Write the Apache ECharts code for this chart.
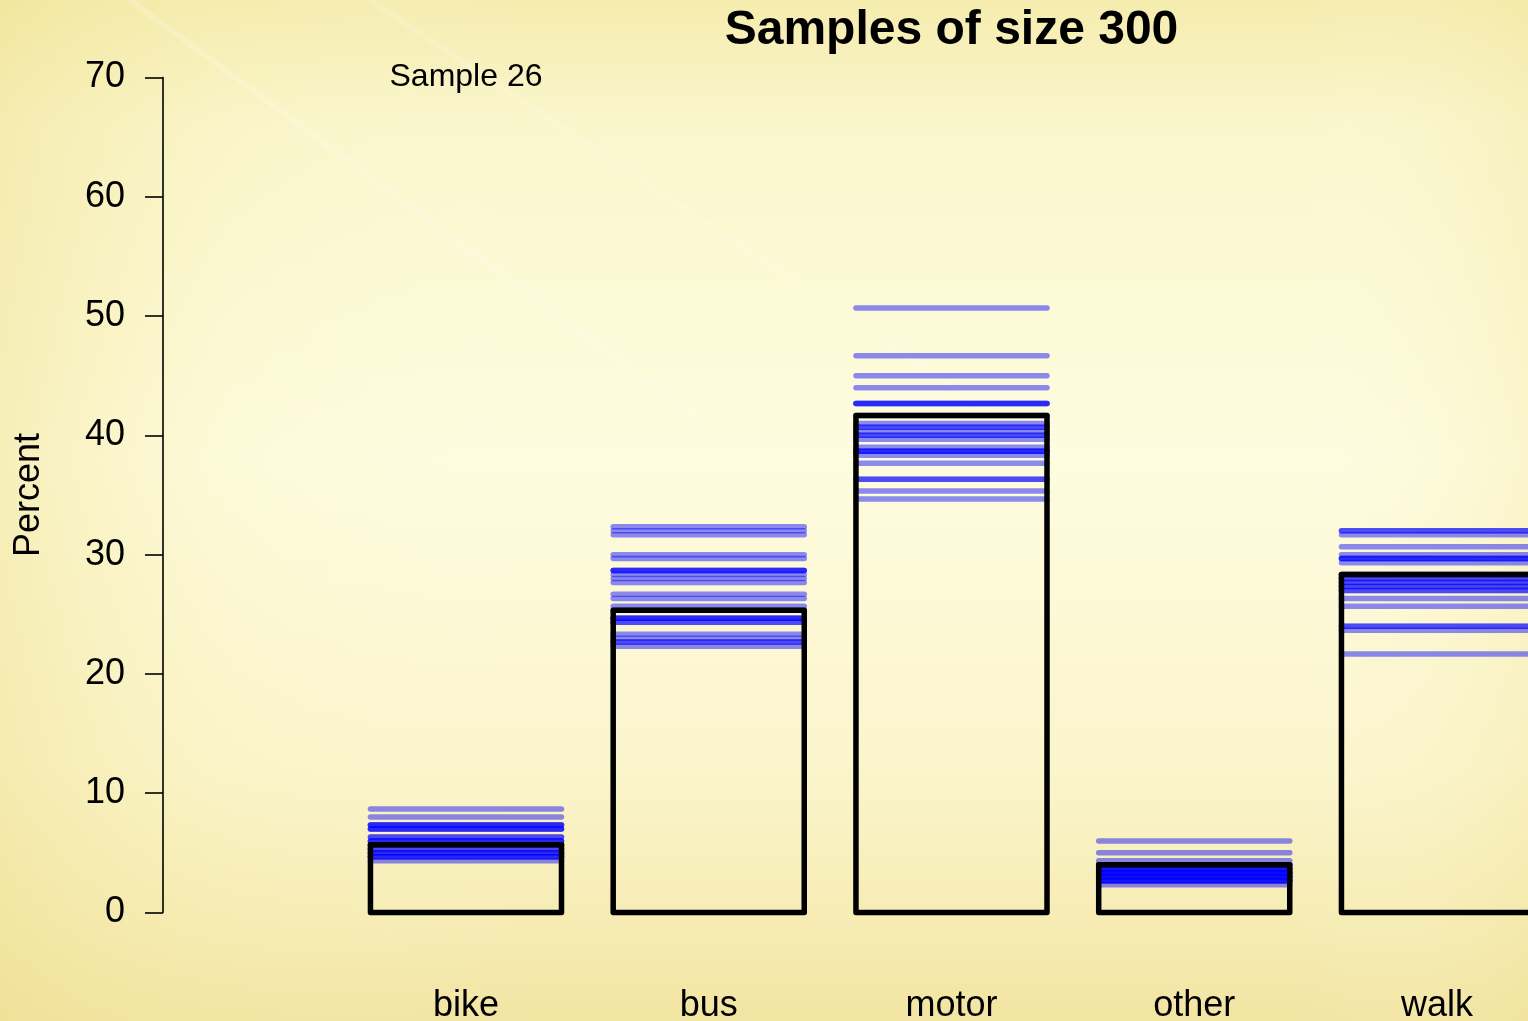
<!DOCTYPE html>
<html>
<head>
<meta charset="utf-8">
<script src="https://cdn.jsdelivr.net/npm/echarts@6/dist/echarts.min.js"></script>
<style>
html,body{margin:0;padding:0;width:1528px;height:1021px;overflow:hidden;}
#chart{width:1528px;height:1021px;}
</style>
</head>
<body>
<div id="chart"></div>
<script>
// ---- data ----
const categories = ['bike', 'bus', 'motor', 'other', 'walk'];
const currentSample = [5.67, 25.33, 41.67, 4.0, 28.33];
const sampleLabel = 'Sample 26';
const titleText = 'Samples of size 300';
const yTicks = [0, 10, 20, 30, 40, 50, 60, 70];
// earlier samples (percent), one array per category
const prevBike  = [8.67, 8.0, 7.33, 7.33, 7.33, 7.0, 7.0, 7.0, 6.33, 6.33, 6.0, 6.0, 6.0, 5.67, 5.67, 5.67, 5.33, 5.33, 5.0, 5.0, 5.0, 4.67, 4.67, 4.67, 4.33];
const prevBus   = [32.33, 32.0, 31.67, 30.0, 29.67, 28.67, 28.67, 28.67, 28.33, 28.0, 27.67, 26.67, 26.33, 25.67, 25.33, 24.67, 24.67, 24.67, 24.33, 24.33, 23.33, 23.0, 22.67, 22.67, 22.33];
const prevMotor = [50.67, 46.67, 45.0, 44.0, 42.67, 42.67, 42.67, 41.67, 41.0, 40.67, 40.67, 40.33, 40.0, 40.0, 39.67, 39.0, 38.67, 38.67, 38.67, 38.33, 37.67, 36.33, 36.33, 35.33, 34.67];
const prevOther = [6.0, 5.0, 4.33, 4.0, 4.0, 4.0, 3.67, 3.67, 3.67, 3.67, 3.33, 3.33, 3.33, 3.33, 3.33, 3.0, 3.0, 3.0, 3.0, 3.0, 2.67, 2.67, 2.67, 2.67, 2.33];
const prevWalk  = [32.0, 32.0, 31.67, 30.67, 30.0, 29.67, 29.67, 29.67, 29.33, 28.33, 28.0, 28.0, 27.67, 27.67, 27.33, 27.33, 27.0, 27.0, 26.33, 25.67, 24.0, 24.0, 23.67, 21.67, 28.33];
const prevSamples = [prevBike, prevBus, prevMotor, prevOther, prevWalk];

// ---- build ----
const lineData = [];
prevSamples.forEach((arr, i) => arr.forEach(v => lineData.push([i, v])));
const barData = currentSample.map((v, i) => [i, v]);

const chart = echarts.init(document.getElementById('chart'), null, {renderer: 'canvas'});
const FONT = '"Liberation Sans", Arial, Helvetica, sans-serif';
const BAR_FRAC = 0.787;

const option = {
  animation: false,
  backgroundColor: {
    type: 'linear', x: 0, y: 0, x2: 0, y2: 1,
    colorStops: [
      {offset: 0, color: '#f5ecae'},
      {offset: 0.12, color: '#faf6cc'},
      {offset: 0.45, color: '#fefcdf'},
      {offset: 0.75, color: '#fbf5cc'},
      {offset: 0.9, color: '#f6ecb4'},
      {offset: 1, color: '#f2e4a2'}
    ]
  },
  graphic: [
    {type: 'rect', shape: {x: 0, y: 0, width: 1528, height: 1021}, silent: true, z: -20,
     style: {fill: {type: 'linear', x: 0, y: 0, x2: 1, y2: 0, colorStops: [
       {offset: 0, color: 'rgba(238,222,140,0.45)'},
       {offset: 0.15, color: 'rgba(245,235,170,0.12)'},
       {offset: 0.35, color: 'rgba(255,255,240,0)'},
       {offset: 0.85, color: 'rgba(255,255,240,0)'},
       {offset: 1, color: 'rgba(240,226,150,0.25)'}
     ]}}},
    {type: 'line', shape: {x1: 130, y1: 0, x2: 700, y2: 420}, silent: true, z: -10,
     style: {stroke: 'rgba(255,255,245,0.2)', lineWidth: 6, shadowBlur: 12, shadowColor: 'rgba(255,255,240,0.4)'}},
    {type: 'line', shape: {x1: 370, y1: 0, x2: 1080, y2: 470}, silent: true, z: -10,
     style: {stroke: 'rgba(255,255,245,0.16)', lineWidth: 6, shadowBlur: 12, shadowColor: 'rgba(255,255,240,0.35)'}}
  ],
  title: [
    {text: titleText, left: 951.5, top: 7, textAlign: 'center', padding: 0,
     textStyle: {fontFamily: FONT, fontSize: 48, fontWeight: 'bold', color: '#000'}},
    {text: sampleLabel, left: 466, top: 61, textAlign: 'center', padding: 0,
     textStyle: {fontFamily: FONT, fontSize: 32, fontWeight: 'normal', color: '#000'}}
  ],
  grid: {left: 344.6, width: 1213.75, top: 77.5, bottom: 108.5, containLabel: false, outerBoundsMode: 'none'},
  xAxis: {
    type: 'category', data: categories,
    axisLine: {show: false}, axisTick: {show: false},
    axisLabel: {margin: 76, fontFamily: FONT, fontSize: 36, color: '#000'},
    splitLine: {show: false}
  },
  yAxis: {
    type: 'value', min: 0, max: 70, interval: 10,
    offset: 181.6,
    name: 'Percent', nameLocation: 'middle', nameRotate: 90, nameGap: 116,
    nameTextStyle: {fontFamily: FONT, fontSize: 36, color: '#000'},
    axisLine: {show: true, lineStyle: {color: '#000', width: 1.6}},
    axisTick: {show: true, inside: false, length: 18, lineStyle: {color: '#000', width: 1.6}},
    axisLabel: {margin: 38, fontFamily: FONT, fontSize: 36, color: '#000',
      formatter: v => (yTicks.indexOf(v) >= 0 ? String(v) : '')},
    splitLine: {show: false}
  },
  series: [
    {
      type: 'custom', name: 'previous samples', z: 2,
      data: lineData,
      renderItem: function (params, api) {
        const c = api.coord([api.value(0), api.value(1)]);
        const half = api.size([1, 0])[0] * BAR_FRAC / 2;
        return {
          type: 'line',
          shape: {x1: c[0] - half, y1: c[1], x2: c[0] + half, y2: c[1]},
          style: {stroke: 'rgba(0,0,255,0.45)', lineWidth: 5.5, lineCap: 'round'}
        };
      }
    },
    {
      type: 'custom', name: 'current sample', z: 3,
      data: barData,
      renderItem: function (params, api) {
        const top = api.coord([api.value(0), api.value(1)]);
        const base = api.coord([api.value(0), 0]);
        const w = api.size([1, 0])[0] * BAR_FRAC;
        return {
          type: 'rect',
          shape: {x: top[0] - w / 2, y: top[1], width: w, height: base[1] - top[1]},
          style: {fill: 'none', stroke: '#000', lineWidth: 5.5, lineJoin: 'round'}
        };
      }
    }
  ]
};
chart.setOption(option);
</script>
</body>
</html>
